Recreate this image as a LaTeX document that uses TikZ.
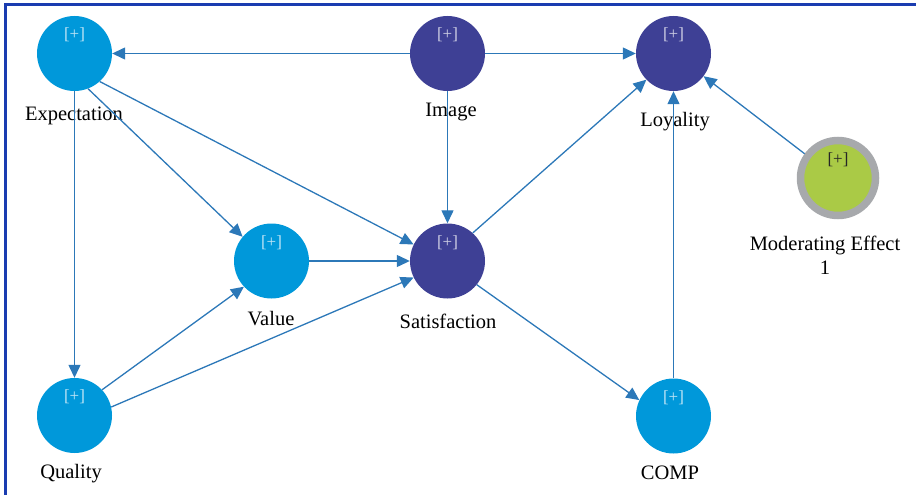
\documentclass[tikz,border=0pt]{standalone}
\usepackage{fontspec}
\setmainfont{Liberation Serif}
\usetikzlibrary{arrows.meta}
\definecolor{lvblue}{HTML}{0098DA}
\definecolor{lvdark}{HTML}{3E4095}
\definecolor{lvgreen}{HTML}{AACA46}
\definecolor{ringgray}{HTML}{A7A9AC}
\definecolor{pathblue}{HTML}{2C78B8}
\definecolor{frameblue}{HTML}{1A3CB0}
\tikzset{
  plus/.style={text=white, text opacity=0.75, yshift=18.5pt, inner sep=0pt, font=\fontsize{17}{17}\selectfont},
  lv/.style={circle, minimum size=75pt, inner sep=0pt, fill=#1, label={[plus]center:{[+]}}},
  modlv/.style={circle, minimum size=75pt, inner sep=0pt, fill=lvgreen, draw=ringgray, line width=7.5pt,
    label={[plus,text=black!85,text opacity=1]center:{[+]}}},
  lbl/.style={font=\fontsize{20.5}{24}\selectfont, anchor=base, inner sep=0pt},
  path/.style={draw=pathblue, line width=1.3pt, -{Triangle[length=13pt,width=12pt]}}
}
\begin{document}
\begin{tikzpicture}[x=1pt,y=-1pt]
\useasboundingbox (0,0) rectangle (916,495);
\draw[frameblue, line width=3pt] (5.5,495) -- (5.5,4.2) -- (916,4.2);

\node[lv=lvblue] (exp) at (74.5,53.5) {};
\node[lv=lvdark] (img) at (447.5,53.5) {};
\node[lv=lvdark] (loy) at (673.5,53.5) {};
\node[modlv] (mod) at (838,178) {};
\node[lv=lvblue] (val) at (271.5,261) {};
\node[lv=lvdark] (sat) at (447.5,261) {};
\node[lv=lvblue] (qual) at (74.5,415.5) {};
\node[lv=lvblue] (comp) at (673.5,416) {};

\node[lbl] (explbl) at (74,121) {Expectation};
\node[lbl] (imglbl) at (451,117) {Image};
\node[lbl] (loylbl) at (675,126) {Loyality};
\node[lbl, align=center] (modlbl) at (825,274) {Moderating Effect\\1};
\node[lbl] (vallbl) at (271,325) {Value};
\node[lbl] (satlbl) at (448,328) {Satisfaction};
\node[lbl] (quallbl) at (71,478) {Quality};
\node[lbl] (complbl) at (670,479) {COMP};

\draw[path] (img.west) -- (exp.east);
\draw[path] (img.east) -- (loy.west);
\draw[path] (img.south) -- (sat.north);
\draw[path] (exp.south) -- (qual.north);
\draw[path] (exp.-69) -- (val.140);
\draw[path] (exp.-48) -- (sat.154);
\draw[path] (val.east) -- (sat.west);
\draw[path] (qual.43) -- (val.223);
\draw[path] (qual.13) -- (sat.206);
\draw[path] (sat.48) -- (loy.224);
\draw[path] (sat.-39) -- (comp.155);
\draw[path] (comp.north) -- (loy.south);
\draw[path] (mod.144) -- (loy.-37);
\end{tikzpicture}
\end{document}
